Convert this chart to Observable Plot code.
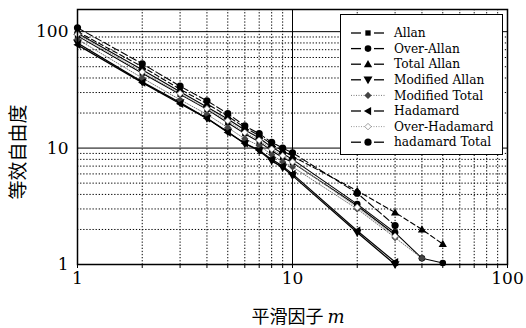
<!DOCTYPE html>
<html><head><meta charset="utf-8">
<script src="https://cdn.jsdelivr.net/npm/d3@7"></script>
<script src="https://cdn.jsdelivr.net/npm/@observablehq/plot@0.6"></script>
<style>
body{margin:0;background:#fff;}
#wrap{position:relative;width:526px;height:328px;overflow:hidden;}
.ylab{position:absolute;left:16px;top:152px;transform:translate(-50%,-50%) rotate(-90deg);font-family:"Noto Sans CJK SC";font-size:19px;line-height:1;white-space:nowrap;color:#000;}
.xlab{position:absolute;left:298px;top:316px;transform:translate(-50%,-50%);font-family:"Noto Sans CJK SC";font-size:18px;line-height:1;white-space:nowrap;color:#000;}
.xlab i{font-family:"DejaVu Serif";font-style:italic;font-size:18px;}
#legend{position:absolute;left:340px;top:14px;width:163px;height:141px;background:#fff;border:1px solid #000;box-sizing:border-box;}
</style></head><body><div id="wrap"></div>
<script>
// smoothing factor m
const m = [1, 2, 3, 4, 5, 6, 7, 8, 9, 10, 20, 30, 40, 50];
// equivalent degrees of freedom per estimator
const allan         = [92, 44, 29, 21.5, 16.5, 13.3, 11.3, 9.5, 8.3, 7.5, 3.2, 1.8];
const overAllan     = [97, 47, 30.5, 22.5, 17.8, 14.3, 12.2, 10.2, 9.0, 8.0, 3.3, 1.88, 1.13, 1.03];
const totalAllan    = [100, 50, 32, 24, 18.8, 15, 12.8, 10.8, 9.5, 8.5, 4.3, 2.8, 2.0, 1.5];
const modAllan      = [80, 37, 24.6, 18, 13.8, 10.9, 9.5, 7.8, 6.8, 5.8, 1.88, 1.0];
const modTotal      = [86, 40, 26, 19.5, 15, 12, 10.5, 8.8, 7.6, 6.9, 3.0, 1.7, 1.13];
const hadamard      = [77, 36.5, 24, 18, 13.6, 11, 9.6, 8, 7, 6.0, 1.95, 1.05];
const overHadamard  = [95, 45, 29.4, 21.8, 17.2, 13.6, 11.7, 9.8, 8.6, 7.6, 3.1, 1.75];
const hadamardTotal = [108, 53, 34, 25.5, 19.8, 15.5, 13.3, 11.2, 10, 9.1, 4.1, 2.16];
const seriesNames = ["Allan","Over-Allan","Total Allan","Modified Allan","Modified Total","Hadamard","Over-Hadamard","hadamard Total"];
const seriesValues = [allan, overAllan, totalAllan, modAllan, modTotal, hadamard, overHadamard, hadamardTotal];
const xTicks = [1, 10, 100];
const yTicks = [1, 10, 100];
const xMinor = [2,3,4,5,6,7,8,9,20,30,40,50,60,70,80,90];
const yMinor = [2,3,4,5,6,7,8,9,20,30,40,50,60,70,80,90];

const rad = s => Math.sqrt(s / Math.PI);
const downTri = {draw(c, s){const r = rad(s)*1.25; c.moveTo(-r, -r*0.75); c.lineTo(r, -r*0.75); c.lineTo(0, r); c.closePath();}};
const upTri = {draw(c, s){const r = rad(s)*1.25; c.moveTo(-r, r*0.75); c.lineTo(r, r*0.75); c.lineTo(0, -r); c.closePath();}};
const leftTri = {draw(c, s){const r = rad(s)*1.25; c.moveTo(r*0.75, -r); c.lineTo(r*0.75, r); c.lineTo(-r, 0); c.closePath();}};
const diamond = {draw(c, s){const r = rad(s)*1.3; c.moveTo(0, -r); c.lineTo(r, 0); c.lineTo(0, r); c.lineTo(-r, 0); c.closePath();}};

const styles = [
  {symbol:"square", r:3, fill:"#000", stroke:"none", line:"#000", dash:null, lw:1.1},
  {symbol:"circle", r:3.3, fill:"#000", stroke:"none", line:"#000", dash:null, lw:1.1},
  {symbol:upTri, r:3.3, fill:"#000", stroke:"none", line:"#000", dash:"5,3", lw:1.1},
  {symbol:downTri, r:3.6, fill:"#000", stroke:"none", line:"#000", dash:null, lw:1.3},
  {symbol:diamond, r:2.8, fill:"#444", stroke:"none", line:"#777", dash:"1,1.5", lw:1},
  {symbol:leftTri, r:3.3, fill:"#000", stroke:"none", line:"#000", dash:null, lw:1.2},
  {symbol:diamond, r:2.5, fill:"#fff", stroke:"#888", line:"#999", dash:"1,1.5", lw:1},
  {symbol:"circle", r:3.6, fill:"#000", stroke:"none", line:"#000", dash:"7,3", lw:1.1}
];

const seriesMarks = [];
seriesValues.forEach((vals, i) => {
  const rows = vals.map((v, j) => ({m: m[j], v, s: seriesNames[i]}));
  const st = styles[i];
  seriesMarks.push(Plot.line(rows, {x:"m", y:"v", stroke:st.line, strokeWidth:st.lw, strokeDasharray:st.dash}));
});
seriesValues.forEach((vals, i) => {
  const rows = vals.map((v, j) => ({m: m[j], v, s: seriesNames[i]}));
  const st = styles[i];
  seriesMarks.push(Plot.dot(rows, {x:"m", y:"v", symbol:st.symbol, r:st.r, fill:st.fill, stroke:st.stroke, strokeWidth:0.8}));
});

const chart = Plot.plot({
  width: 526, height: 328,
  marginLeft: 77, marginRight: 19, marginTop: 9, marginBottom: 64,
  style: {fontFamily: "DejaVu Serif", fontSize: "17px", background: "#fff", color: "#000"},
  x: {type: "log", domain: [1, 100]},
  y: {type: "log", domain: [1, 155]},
  marks: [
    Plot.ruleX(xMinor, {stroke: "#000", strokeWidth: 1, strokeDasharray: "1.3,1.8"}),
    Plot.ruleY(yMinor, {stroke: "#000", strokeWidth: 1, strokeDasharray: "1.3,1.8"}),
    Plot.ruleX([10], {stroke: "#000", strokeWidth: 1}),
    Plot.ruleY([10, 100], {stroke: "#000", strokeWidth: 1}),
    Plot.axisX(xMinor.concat(xTicks), {tickSize: 4, tickFormat: () => "", label: null, strokeWidth: 1}),
    Plot.axisX(xTicks, {tickSize: 0, tickPadding: 7, tickFormat: d => String(d), label: null, fontSize: 17}),
    Plot.axisY(yTicks, {tickSize: 0, tickPadding: 9, tickFormat: d => String(d), label: null, fontSize: 17}),
    ...seriesMarks,
    Plot.frame({stroke: "#000", strokeWidth: 1.5})
  ]
});
const wrap = document.getElementById("wrap");
wrap.appendChild(chart);

const yl = document.createElement("div"); yl.className = "ylab"; yl.textContent = "等效自由度"; wrap.appendChild(yl);
const xl = document.createElement("div"); xl.className = "xlab"; xl.innerHTML = "平滑因子 <i>m</i>"; wrap.appendChild(xl);

// legend
const lg = document.createElement("div"); lg.id = "legend"; wrap.appendChild(lg);
const ls = d3.select(lg).append("svg").attr("width", 161).attr("height", 139);
seriesNames.forEach((name, i) => {
  const st = styles[i];
  const y = 18 + i * 15.6;
  const g = ls.append("g").attr("transform", `translate(0,${y})`);
  if (st.dash && st.dash.startsWith("1,")) {
    g.append("line").attr("x1", 10).attr("x2", 44).attr("y1", 0).attr("y2", 0)
      .attr("stroke", st.line).attr("stroke-width", 1).attr("stroke-dasharray", "1,1.5");
  } else {
    g.append("line").attr("x1", 10).attr("x2", 20).attr("y1", 0).attr("y2", 0).attr("stroke", "#000").attr("stroke-width", 1.3);
    g.append("line").attr("x1", 33).attr("x2", 43).attr("y1", 0).attr("y2", 0).attr("stroke", "#000").attr("stroke-width", 1.3);
  }
  const sym = typeof st.symbol === "string" ? (st.symbol === "square" ? d3.symbolSquare : d3.symbolCircle) : st.symbol;
  g.append("path").attr("transform", "translate(27,0)")
    .attr("d", d3.symbol(sym, Math.PI * st.r * st.r)())
    .attr("fill", st.fill).attr("stroke", st.stroke === "none" ? null : st.stroke).attr("stroke-width", 0.8);
  g.append("text").attr("x", 53).attr("y", 0).attr("dy", "0.35em")
    .attr("font-family", "DejaVu Serif").attr("font-size", 12.2).text(name);
});
</script></body></html>
